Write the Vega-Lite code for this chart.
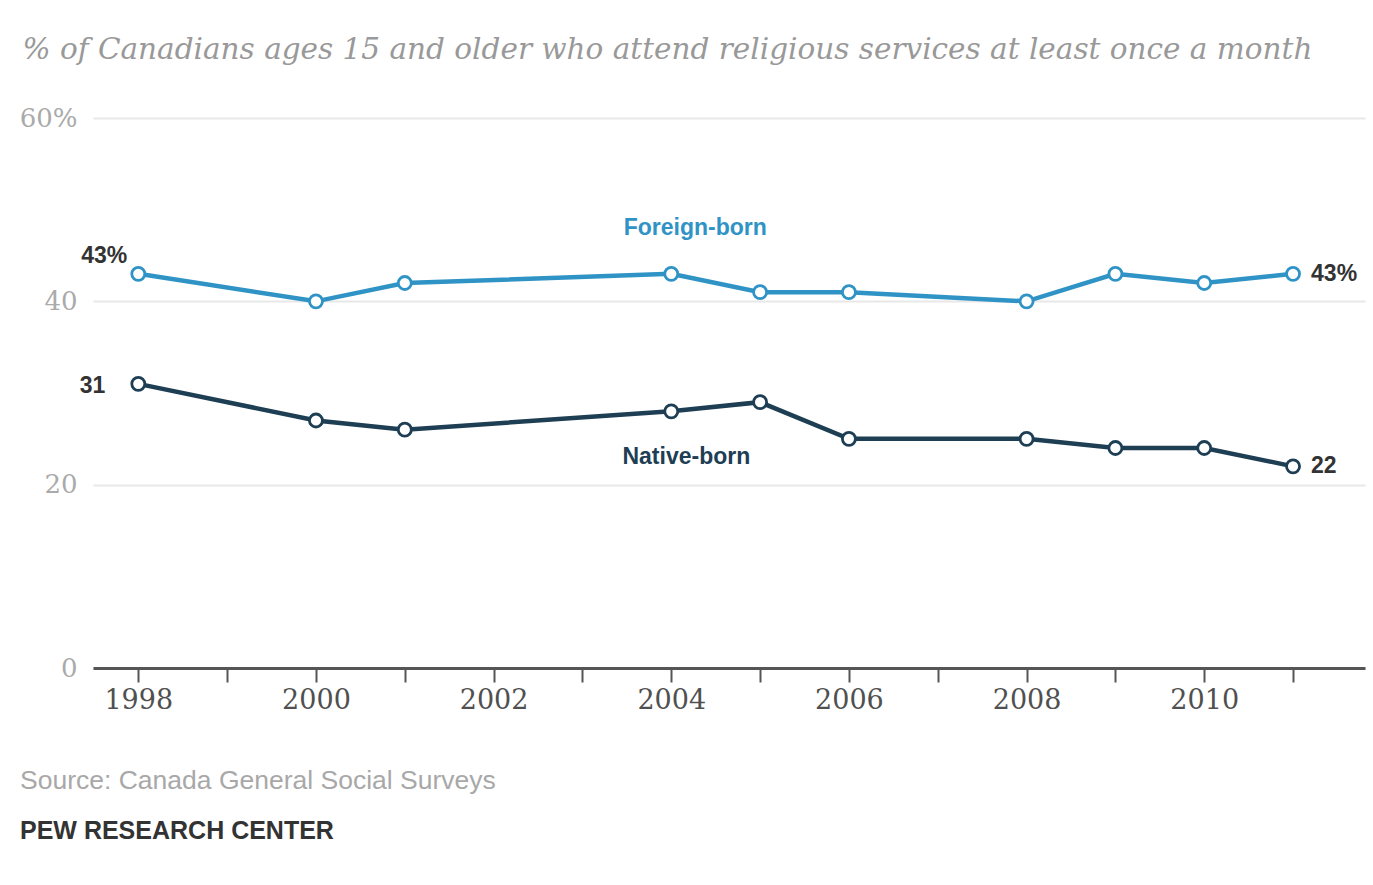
{
  "$schema": "https://vega.github.io/schema/vega-lite/v6.json",
  "autosize": "none",
  "width": 1272,
  "height": 550,
  "padding": {"left": 93, "top": 118, "right": 8, "bottom": 217},
  "background": "#ffffff",
  "config": {"view": {"stroke": null}},
  "title": {
    "text": "Source: Canada General Social Surveys",
    "subtitle": "PEW RESEARCH CENTER",
    "orient": "bottom",
    "anchor": "start",
    "frame": "group",
    "dx": -73,
    "offset": 55,
    "font": "Liberation Sans",
    "fontSize": 26.5,
    "fontWeight": "normal",
    "color": "#a8a8a8",
    "subtitleFont": "Liberation Sans",
    "subtitleFontSize": 25,
    "subtitleFontWeight": "bold",
    "subtitleColor": "#333333",
    "subtitlePadding": 24
  },
  "datasets": {
    "series": [
      {"series": "Foreign-born", "year": 1998, "value": 43, "label": "43%"},
      {"series": "Foreign-born", "year": 2000, "value": 40},
      {"series": "Foreign-born", "year": 2001, "value": 42},
      {"series": "Foreign-born", "year": 2004, "value": 43},
      {"series": "Foreign-born", "year": 2005, "value": 41},
      {"series": "Foreign-born", "year": 2006, "value": 41},
      {"series": "Foreign-born", "year": 2008, "value": 40},
      {"series": "Foreign-born", "year": 2009, "value": 43},
      {"series": "Foreign-born", "year": 2010, "value": 42},
      {"series": "Foreign-born", "year": 2011, "value": 43, "label": "43%"},
      {"series": "Native-born", "year": 1998, "value": 31, "label": "31"},
      {"series": "Native-born", "year": 2000, "value": 27},
      {"series": "Native-born", "year": 2001, "value": 26},
      {"series": "Native-born", "year": 2004, "value": 28},
      {"series": "Native-born", "year": 2005, "value": 29},
      {"series": "Native-born", "year": 2006, "value": 25},
      {"series": "Native-born", "year": 2008, "value": 25},
      {"series": "Native-born", "year": 2009, "value": 24},
      {"series": "Native-born", "year": 2010, "value": 24},
      {"series": "Native-born", "year": 2011, "value": 22, "label": "22"}
    ],
    "names": [
      {"series": "Foreign-born", "year": 2004.27, "value": 48},
      {"series": "Native-born", "year": 2004.17, "value": 23}
    ]
  },
  "encoding": {
    "x": {
      "field": "year",
      "type": "quantitative",
      "scale": {"domain": [1997.49, 2011.81], "nice": false, "zero": false},
      "axis": {
        "title": null,
        "values": [1998, 1999, 2000, 2001, 2002, 2003, 2004, 2005, 2006, 2007, 2008, 2009, 2010, 2011],
        "labelExpr": "datum.value % 2 == 0 ? format(datum.value, 'd') : ''",
        "grid": false,
        "domain": true,
        "domainColor": "#555555",
        "domainWidth": 3,
        "ticks": true,
        "tickColor": "#555555",
        "tickWidth": 2,
        "tickSize": 14,
        "labelPadding": 5,
        "labelFont": "DejaVu Serif",
        "labelFontSize": 27,
        "labelColor": "#505050",
        "labelOverlap": false
      }
    },
    "y": {
      "field": "value",
      "type": "quantitative",
      "scale": {"domain": [0, 60], "nice": false},
      "axis": {
        "title": "% of Canadians ages 15 and older who attend religious services at least once a month",
        "titleAngle": 0,
        "titleAlign": "left",
        "titleBaseline": "alphabetic",
        "titleX": -71,
        "titleY": -60,
        "titleFont": "DejaVu Serif",
        "titleFontStyle": "italic",
        "titleFontWeight": "normal",
        "titleFontSize": 29.5,
        "titleColor": "#999999",
        "values": [0, 20, 40, 60],
        "labelExpr": "datum.value == 60 ? '60%' : datum.label",
        "grid": true,
        "gridColor": "#e8e8e8",
        "gridWidth": 2,
        "domain": false,
        "ticks": false,
        "labelPadding": 16,
        "labelFont": "DejaVu Serif",
        "labelFontSize": 26,
        "labelColor": "#aaaaaa"
      }
    },
    "color": {
      "field": "series",
      "type": "nominal",
      "scale": {"domain": ["Foreign-born", "Native-born"], "range": ["#2f93c6", "#1e3e54"]},
      "legend": null
    }
  },
  "layer": [
    {
      "data": {"name": "series"},
      "mark": {"type": "line", "strokeWidth": 4.5}
    },
    {
      "data": {"name": "series"},
      "mark": {"type": "point", "shape": "circle", "filled": false, "fill": "white", "fillOpacity": 1, "opacity": 1, "size": 170, "strokeWidth": 2.8}
    },
    {
      "data": {"name": "series"},
      "transform": [{"filter": "datum.year == 1998 && datum.series == 'Foreign-born'"}],
      "mark": {"type": "text", "align": "right", "baseline": "middle", "dx": -11, "dy": -18, "font": "Liberation Sans", "fontSize": 23, "fontWeight": "bold"},
      "encoding": {"text": {"field": "label"}, "color": {"value": "#333333"}}
    },
    {
      "data": {"name": "series"},
      "transform": [{"filter": "datum.year == 1998 && datum.series == 'Native-born'"}],
      "mark": {"type": "text", "align": "right", "baseline": "middle", "dx": -33, "dy": 2, "font": "Liberation Sans", "fontSize": 23, "fontWeight": "bold"},
      "encoding": {"text": {"field": "label"}, "color": {"value": "#333333"}}
    },
    {
      "data": {"name": "series"},
      "transform": [{"filter": "datum.year == 2011"}],
      "mark": {"type": "text", "align": "left", "baseline": "middle", "dx": 18, "font": "Liberation Sans", "fontSize": 23, "fontWeight": "bold"},
      "encoding": {"text": {"field": "label"}, "color": {"value": "#333333"}}
    },
    {
      "data": {"name": "names"},
      "mark": {"type": "text", "align": "center", "baseline": "middle", "font": "Liberation Sans", "fontSize": 23, "fontWeight": "bold"},
      "encoding": {"text": {"field": "series"}}
    }
  ]
}
